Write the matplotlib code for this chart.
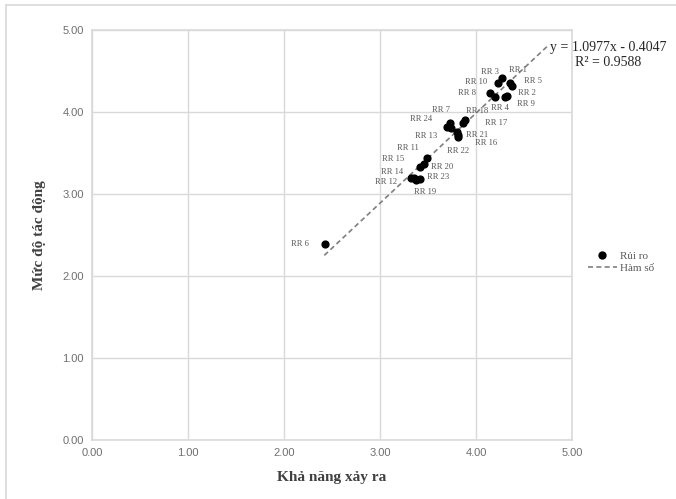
import matplotlib
matplotlib.use("Agg")
import matplotlib.pyplot as plt
from matplotlib.lines import Line2D

# data
labels = ["RR 1", "RR 2", "RR 3", "RR 4", "RR 5", "RR 6", "RR 7", "RR 8",
          "RR 9", "RR 10", "RR 11", "RR 12", "RR 13", "RR 14", "RR 15", "RR 16",
          "RR 17", "RR 18", "RR 19", "RR 20", "RR 21", "RR 22", "RR 23", "RR 24"]
kha_nang = [4.35, 4.32, 4.27, 4.20, 4.375, 2.43, 3.73, 4.15,
            4.30, 4.23, 3.49, 3.32, 3.74, 3.35, 3.46, 3.81,
            3.86, 3.89, 3.375, 3.42, 3.80, 3.81, 3.42, 3.70]
tac_dong = [4.35, 4.19, 4.41, 4.18, 4.32, 2.39, 3.87, 4.23,
            4.18, 4.35, 3.44, 3.20, 3.80, 3.20, 3.37, 3.72,
            3.86, 3.90, 3.17, 3.33, 3.76, 3.70, 3.18, 3.82]
slope, intercept, r2 = 1.0977, -0.4047, 0.9588
trend_x = [2.42, 4.75]

# label offsets in pixels (dx, dy up)
offsets = [(8, 13), (20, 3), (-12, 6), (5, -11), (21, 5), (-25, 0), (-9, 13), (-23, 0),
           (21, -7), (-22, 1), (-19, 10), (-25, -4), (-25, -8), (-22, 6), (-31, 5), (28, -8),
           (34, 0), (12, 9), (9, -12), (22, 0), (20, -3), (0, -14), (18, 2), (-26, 8)]

grey = "#595959"
grid = "#d9d9d9"

fig = plt.figure(figsize=(6.76, 4.99), dpi=100)
ax = fig.add_axes([92/676, 1-440/499, 480/676, 410/499])

ax.scatter(kha_nang, tac_dong, s=24, color="black", zorder=3, label="Rủi ro")
ty = [slope*v + intercept for v in trend_x]
ax.plot(trend_x, ty, color="#7f7f7f", lw=1.2, ls=(0, (3, 2)), zorder=2, label="Hàm số")

for lab, x, y, (dx, dy) in zip(labels, kha_nang, tac_dong, offsets):
    ax.annotate(lab, (x, y), xytext=(dx*0.72, dy*0.72), textcoords="offset points",
                ha="center", va="center", fontsize=6.2, color=grey,
                family="Liberation Serif")

ax.set_xlim(0, 5)
ax.set_ylim(0, 5)
ax.set_xticks([0, 1, 2, 3, 4, 5])
ax.set_yticks([0, 1, 2, 3, 4, 5])
ax.set_xticklabels(["%.2f" % v for v in range(6)])
ax.set_yticklabels(["%.2f" % v for v in range(6)])
ax.tick_params(length=0, labelsize=8, colors="#6f6f6f", pad=6)
for t in ax.get_xticklabels() + ax.get_yticklabels():
    t.set_family("Liberation Sans")
ax.grid(True, color=grid, lw=1)
ax.set_axisbelow(True)
for s in ax.spines.values():
    s.set_color(grid)
    s.set_linewidth(1.2)

ax.set_xlabel("Khả năng xảy ra", fontsize=11, fontweight="bold", color="#404040",
              family="Liberation Serif", labelpad=9)
ax.set_ylabel("Mức độ tác động", fontsize=11, fontweight="bold", color="#404040",
              family="Liberation Serif", labelpad=12)

fig.text(608/676, 1-55/499, "y = 1.0977x - 0.4047\nR² = 0.9588", ha="center", va="center",
         multialignment="center", fontsize=10, family="Liberation Serif", linespacing=1.15,
         color="#262626")

fig.legend(handles=[Line2D([], [], marker="o", color="black", ls="none", markersize=5),
                    Line2D([], [], color="#7f7f7f", lw=1.2, ls=(0, (3, 2)))],
           labels=["Rủi ro", "Hàm số"], loc="center left",
           bbox_to_anchor=(578/676, 1-262/499), frameon=False,
           prop={"family": "Liberation Serif", "size": 8}, labelcolor=grey,
           handlelength=2.6, handletextpad=0.3, labelspacing=0.2)

# chart area border (top and left)
fig.add_artist(Line2D([6/676, 1], [1-5/499, 1-5/499], transform=fig.transFigure, color=grid, lw=1.2))
fig.add_artist(Line2D([6/676, 6/676], [0, 1-5/499], transform=fig.transFigure, color=grid, lw=1.2))

fig.savefig("out.png", dpi=100)
